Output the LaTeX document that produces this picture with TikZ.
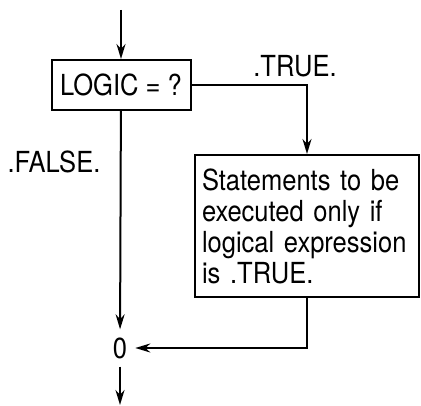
\documentclass[tikz,border=0pt]{standalone}
\usepackage{fontspec}
\setmainfont[FakeStretch=0.88]{TeX Gyre Heros}
\usepackage{tikz}
\usetikzlibrary{positioning,arrows.meta}

\tikzset{
  flowbox/.style={draw, line width=2pt, inner sep=0pt},
  flowline/.style={line width=2pt, -{Stealth[length=15pt,width=9pt]}},
  flowtext/.style={font=\fontsize{29}{31}\selectfont}
}

\begin{document}
\begin{tikzpicture}[x=1pt, y=-1pt]
            \useasboundingbox (0,0) rectangle (421,406);
            % decision and the statement block
            \node[flowbox, flowtext, minimum width=139pt, minimum height=50pt] (logic) at (121,85) {LOGIC = ?};
            \node[flowbox, flowtext, align=left, text width=210pt, inner sep=7pt, minimum height=142pt] (stmts) at (307,226)
                {Statements to be\\executed only if\\logical expression\\is .TRUE.};
            \node[flowtext, inner sep=8pt] (join) at (120,348) {0};
            % branch labels
            \node[flowtext] (truelbl) at (295,66) {.TRUE.};
            \node[flowtext] (falselbl) at (54,162) {.FALSE.};
            % entry and exit
            \coordinate (entry) at (121,10);
            \coordinate (exit) at (120,405);
            \draw[flowline] (entry) -- (logic);
            \draw[flowline] (logic.east) -| (stmts);
            \draw[flowline] (logic) -- (join);
            \draw[flowline] (stmts) |- (join);
            \draw[flowline] (join) -- (exit);
        \end{tikzpicture}
\end{document}
